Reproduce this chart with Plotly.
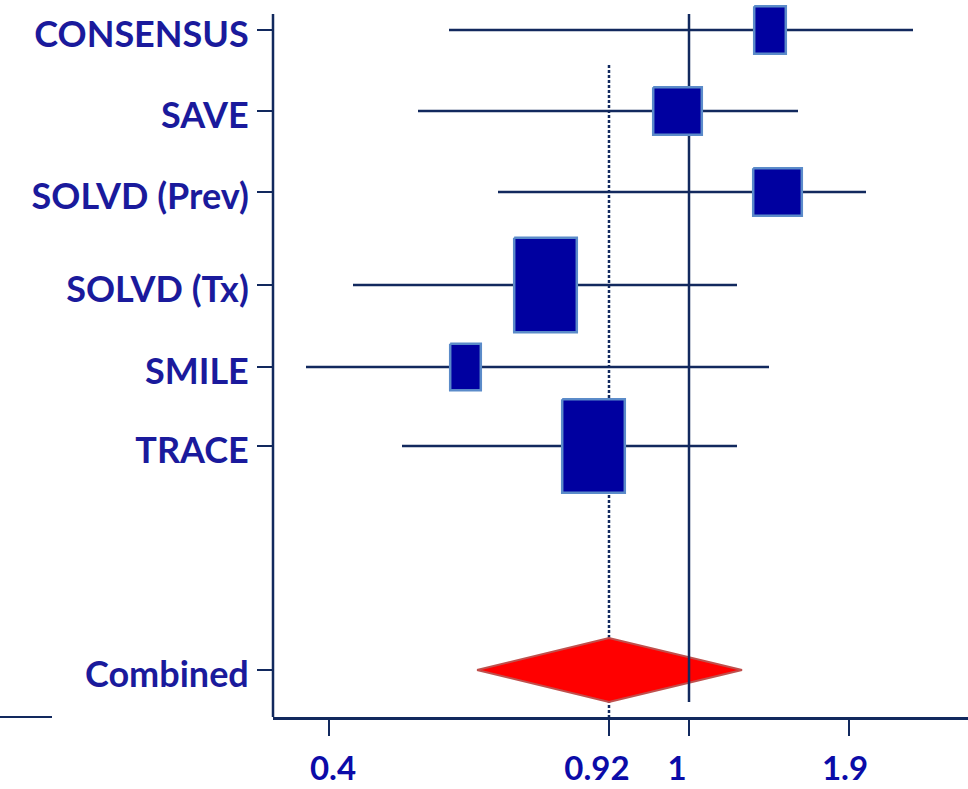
import plotly.graph_objects as go

# ---- data (positions are in the chart's display units along each axis) ----
studies = ["CONSENSUS", "SAVE", "SOLVD (Prev)", "SOLVD (Tx)", "SMILE", "TRACE"]
row_pos = [30, 111, 192, 285, 367, 446]
ci_lo = [449, 418, 498, 353, 306, 402]
ci_hi = [913, 798, 866, 737, 769, 737]
est = [770, 677.5, 777.5, 545.5, 465.5, 593.5]
box_w = [34, 51, 51, 65, 33, 65]
box_h = [50, 50, 50, 97, 49, 96]

combined_label = "Combined"
combined_pos = 670
combined_lo = 477
combined_est = 609
combined_hi = 742
combined_h = 64

x_tick_pos = [329, 609, 689, 849]
x_tick_text = ["0.4", "0.92", "1", "1.9"]
null_pos = 689          # position of ratio 1
pooled_pos = 609        # position of pooled 0.92

# ---- styling ----
W, H = 968, 789
ML, MB = 273, 72
NAVY = "#12295E"
BOX_FILL = "#0000A0"
BOX_EDGE = "#5B8BC9"
LABEL_C = "#1A1A9C"
TICK_C = "#0B0BA8"
NB = "\u00a0"
# small optical nudges of the tick labels (as in the original slide)
lead = [1, 0, 0, 0]
trail = [0, 3, 3, 1]
x_tick_disp = [NB * l + t + NB * r for t, l, r in zip(x_tick_text, lead, trail)]

fig = go.Figure()

# dotted pooled-estimate line (behind)
fig.add_trace(go.Scatter(x=[pooled_pos, pooled_pos], y=[65, 717], mode="lines",
                         line=dict(color=NAVY, width=2.5, dash="3px,2px"),
                         hoverinfo="skip", showlegend=False))

# confidence interval lines
for i in range(len(studies)):
    fig.add_trace(go.Scatter(x=[ci_lo[i], ci_hi[i]], y=[row_pos[i], row_pos[i]],
                             mode="lines", line=dict(color=NAVY, width=2.5),
                             hoverinfo="skip", showlegend=False))

# combined diamond
half = combined_h / 2
fig.add_trace(go.Scatter(
    x=[combined_lo, combined_est, combined_hi, combined_est, combined_lo],
    y=[combined_pos, combined_pos - half, combined_pos, combined_pos + half, combined_pos],
    mode="lines", fill="toself", fillcolor="#FF0000",
    line=dict(color="#C0504D", width=2), hoverinfo="skip", showlegend=False))

# solid null line
fig.add_trace(go.Scatter(x=[null_pos, null_pos], y=[14, 702], mode="lines",
                         line=dict(color=NAVY, width=2.5),
                         hoverinfo="skip", showlegend=False))

# study boxes
for i in range(len(studies)):
    e = 1.2
    x0 = est[i] - box_w[i] / 2 + e
    x1 = est[i] + box_w[i] / 2 - e
    y0 = row_pos[i] - box_h[i] / 2 + e
    y1 = row_pos[i] + box_h[i] / 2 - e
    fig.add_trace(go.Scatter(x=[x0, x1, x1, x0, x0], y=[y0, y0, y1, y1, y0],
                             mode="lines", fill="toself", fillcolor=BOX_FILL,
                             line=dict(color=BOX_EDGE, width=2.5),
                             hoverinfo="skip", showlegend=False))

# left axis line and stray baseline segment
shapes = [
    dict(type="line", xref="paper", yref="y", x0=0, x1=0, y0=14, y1=717,
         line=dict(color=NAVY, width=2.5)),
    dict(type="line", xref="paper", yref="paper",
         x0=(0 - ML) / (W - ML), x1=(52 - ML) / (W - ML), y0=0, y1=0,
         line=dict(color=NAVY, width=2)),
]

fig.update_layout(
    width=W, height=H,
    margin=dict(l=ML, r=0, t=0, b=MB, pad=0),
    paper_bgcolor="white", plot_bgcolor="white",
    showlegend=False,
    shapes=shapes,
    xaxis=dict(range=[ML, W], showgrid=False, zeroline=False,
               showline=True, linecolor=NAVY, linewidth=2.5,
               tickmode="array", tickvals=x_tick_pos, ticktext=x_tick_disp,
               ticks="outside", ticklen=16, tickwidth=2.5, tickcolor=NAVY,
               tickfont=dict(family="Lato", size=33, color=TICK_C, weight="bold"),
               ticklabelstandoff=5),
    yaxis=dict(range=[717, 0], showgrid=False, zeroline=False, showline=False,
               tickmode="array", tickvals=row_pos + [combined_pos],
               ticktext=studies + [combined_label],
               ticks="outside", ticklen=15, tickwidth=2.5, tickcolor=NAVY,
               tickfont=dict(family="Lato", size=36, color=LABEL_C, weight="bold"),
               ticklabelstandoff=1, ticklabelshift=-4),
)

fig.write_html(
    "out.html",
    config={"displayModeBar": False, "staticPlot": True},
    post_script="document.body.style.margin='0';document.body.style.overflow='hidden';",
)
